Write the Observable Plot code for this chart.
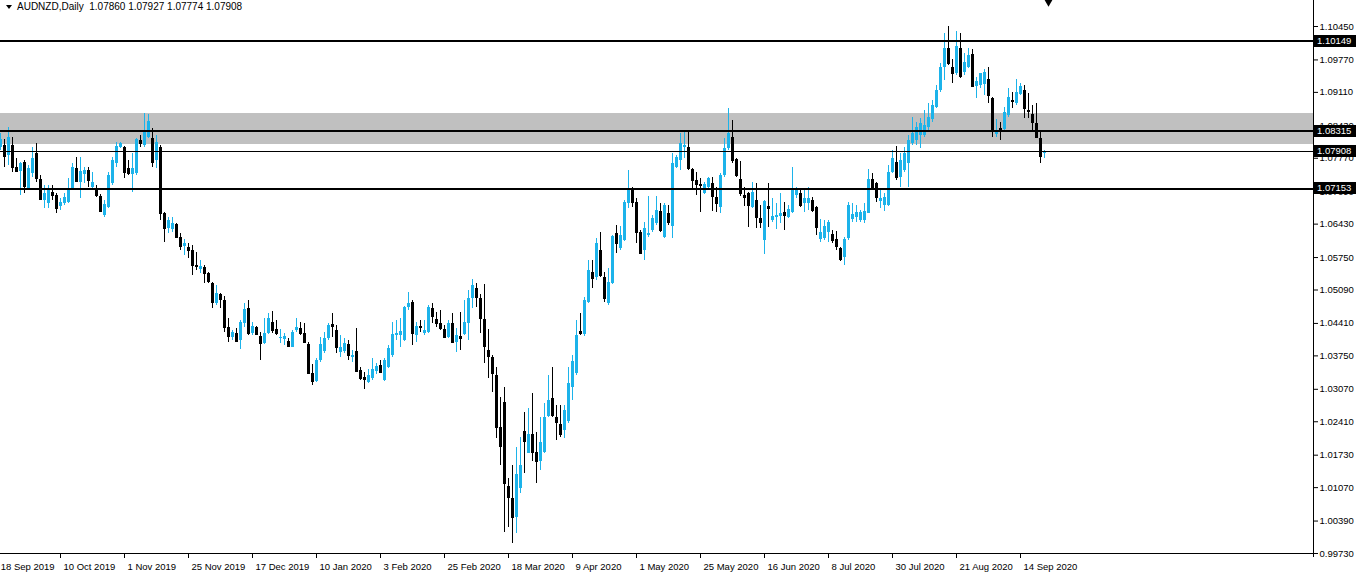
<!DOCTYPE html>
<html><head><meta charset="utf-8">
<script src="https://cdn.jsdelivr.net/npm/d3@7"></script>
<script src="https://cdn.jsdelivr.net/npm/@observablehq/plot@0.6"></script>
<style>
body{margin:0;background:#fff;}
#wrap{position:relative;width:1357px;height:577px;overflow:hidden;background:#fff;}
#title{position:absolute;left:6px;top:1px;font:10px "Liberation Sans",Arial,sans-serif;color:#000;white-space:pre;line-height:12px;}
#title .tri{display:inline-block;width:0;height:0;border-left:3.5px solid transparent;border-right:3.5px solid transparent;border-top:4px solid #000;margin-right:5px;vertical-align:1px;}
#chart{position:absolute;left:0;top:0;}
</style></head><body>
<div id="wrap"><div id="chart"></div><div id="title"></div></div>
<script>
const symbolName = "AUDNZD,Daily";
const lastQuote = [1.07860, 1.07927, 1.07774, 1.07908];

const O = [1.0799,1.0803,1.0783,1.0803,1.0758,1.0750,1.0768,1.0716,1.0746,1.0787,
1.0734,1.0691,1.0685,1.0707,1.0701,1.0679,1.0685,1.0687,1.0714,1.0756,
1.0728,1.0744,1.0752,1.0718,1.0716,1.0699,1.0661,1.0677,1.0726,1.0766,
1.0799,1.0799,1.0756,1.0744,1.0746,1.0813,1.0803,1.0820,1.0818,1.0772,
1.0799,1.0665,1.0634,1.0632,1.0642,1.0616,1.0598,1.0596,1.0589,1.0559,
1.0551,1.0555,1.0543,1.0522,1.0482,1.0500,1.0488,1.0433,1.0413,1.0421,
1.0406,1.0441,1.0472,1.0421,1.0433,1.0415,1.0400,1.0421,1.0443,1.0429,
1.0411,1.0409,1.0404,1.0392,1.0427,1.0431,1.0421,1.0398,1.0339,1.0323,
1.0366,1.0384,1.0411,1.0439,1.0427,1.0382,1.0384,1.0398,1.0372,1.0384,
1.0345,1.0331,1.0321,1.0329,1.0343,1.0355,1.0325,1.0351,1.0376,1.0417,
1.0417,1.0406,1.0474,1.0484,1.0417,1.0435,1.0421,1.0423,1.0472,1.0449,
1.0441,1.0429,1.0413,1.0441,1.0402,1.0415,1.0419,1.0441,1.0492,1.0512,
1.0492,1.0449,1.0386,1.0372,1.0335,1.0230,1.0280,1.0110,1.0085,1.0046,
1.0106,1.0221,1.0177,1.0215,1.0179,1.0160,1.0179,1.0252,1.0288,1.0250,
1.0236,1.0223,1.0242,1.0311,1.0339,1.0425,1.0419,1.0484,1.0545,1.0535,
1.0589,1.0535,1.0482,1.0522,1.0624,1.0594,1.0610,1.0685,1.0716,1.0687,
1.0626,1.0589,1.0620,1.0630,1.0644,1.0669,1.0616,1.0665,1.0638,1.0758,
1.0772,1.0799,1.0799,1.0754,1.0732,1.0724,1.0705,1.0718,1.0726,1.0697,
1.0677,1.0742,1.0797,1.0820,1.0775,1.0734,1.0701,1.0705,1.0677,1.0691,
1.0654,1.0610,1.0679,1.0650,1.0657,1.0659,1.0667,1.0657,1.0667,1.0701,
1.0705,1.0685,1.0685,1.0691,1.0677,1.0612,1.0614,1.0626,1.0622,1.0612,
1.0594,1.0575,1.0614,1.0652,1.0657,1.0650,1.0650,1.0665,1.0734,1.0726,
1.0689,1.0681,1.0681,1.0748,1.0768,1.0738,1.0752,1.0766,1.0807,1.0813,
1.0824,1.0824,1.0840,1.0856,1.0881,1.0915,1.0962,1.1000,1.0962,1.0950,
1.1000,1.0952,1.0962,1.0988,1.0923,1.0925,1.0927,1.0937,1.0899,1.0826,
1.0838,1.0836,1.0864,1.0895,1.0889,1.0907,1.0915,1.0874,1.0866,1.0848,
1.0818,1.07860];

const H = [1.0828,1.0816,1.0840,1.0820,1.0777,1.0768,1.0772,1.0762,1.0799,1.0807,
1.0742,1.0722,1.0722,1.0722,1.0705,1.0695,1.0705,1.0736,1.0766,1.0779,
1.0779,1.0758,1.0758,1.0748,1.0722,1.0703,1.0691,1.0748,1.0779,1.0809,
1.0809,1.0801,1.0772,1.0787,1.0818,1.0824,1.0868,1.0866,1.0838,1.0824,
1.0803,1.0667,1.0657,1.0657,1.0644,1.0624,1.0612,1.0604,1.0600,1.0585,
1.0569,1.0559,1.0545,1.0524,1.0518,1.0502,1.0496,1.0451,1.0427,1.0431,
1.0447,1.0482,1.0488,1.0443,1.0435,1.0423,1.0451,1.0461,1.0465,1.0447,
1.0429,1.0421,1.0411,1.0427,1.0451,1.0443,1.0441,1.0402,1.0358,1.0370,
1.0413,1.0423,1.0441,1.0461,1.0437,1.0417,1.0411,1.0406,1.0386,1.0431,
1.0351,1.0341,1.0347,1.0370,1.0360,1.0366,1.0370,1.0396,1.0443,1.0447,
1.0451,1.0476,1.0504,1.0488,1.0443,1.0447,1.0447,1.0478,1.0482,1.0463,
1.0467,1.0437,1.0447,1.0461,1.0431,1.0463,1.0488,1.0508,1.0530,1.0522,
1.0500,1.0520,1.0429,1.0376,1.0351,1.0291,1.0311,1.0126,1.0152,1.0189,
1.0209,1.0260,1.0268,1.0299,1.0219,1.0250,1.0278,1.0335,1.0351,1.0274,
1.0274,1.0274,1.0351,1.0376,1.0447,1.0461,1.0494,1.0569,1.0569,1.0614,
1.0626,1.0545,1.0553,1.0620,1.0640,1.0638,1.0691,1.0752,1.0718,1.0695,
1.0630,1.0646,1.0699,1.0661,1.0699,1.0685,1.0685,1.0681,1.0787,1.0783,
1.0828,1.0830,1.0830,1.0756,1.0748,1.0736,1.0728,1.0738,1.0738,1.0718,
1.0746,1.0818,1.0879,1.0854,1.0777,1.0770,1.0718,1.0707,1.0728,1.0726,
1.0681,1.0691,1.0726,1.0695,1.0685,1.0705,1.0687,1.0681,1.0758,1.0718,
1.0716,1.0711,1.0718,1.0697,1.0679,1.0652,1.0650,1.0650,1.0630,1.0628,
1.0596,1.0616,1.0687,1.0685,1.0681,1.0671,1.0685,1.0754,1.0746,1.0728,
1.0716,1.0705,1.0762,1.0793,1.0801,1.0787,1.0799,1.0824,1.0860,1.0850,
1.0858,1.0874,1.0889,1.0895,1.0925,1.0970,1.1031,1.1045,1.0978,1.1035,
1.1031,1.0990,1.1000,1.0998,1.0941,1.0950,1.0958,1.0962,1.0901,1.0856,
1.0850,1.0881,1.0919,1.0911,1.0937,1.0929,1.0925,1.0909,1.0885,1.0889,
1.0834,1.07927];

const L = [1.0793,1.0758,1.0762,1.0748,1.0748,1.0701,1.0705,1.0711,1.0738,1.0728,
1.0691,1.0675,1.0675,1.0691,1.0665,1.0671,1.0681,1.0685,1.0711,1.0728,
1.0695,1.0726,1.0718,1.0716,1.0697,1.0667,1.0657,1.0675,1.0722,1.0758,
1.0797,1.0736,1.0742,1.0707,1.0742,1.0799,1.0799,1.0818,1.0758,1.0756,
1.0650,1.0606,1.0624,1.0626,1.0614,1.0589,1.0579,1.0573,1.0539,1.0549,
1.0543,1.0522,1.0522,1.0472,1.0478,1.0472,1.0423,1.0402,1.0406,1.0402,
1.0388,1.0433,1.0417,1.0417,1.0417,1.0366,1.0398,1.0419,1.0421,1.0417,
1.0400,1.0396,1.0392,1.0392,1.0423,1.0417,1.0400,1.0339,1.0315,1.0321,
1.0362,1.0380,1.0406,1.0413,1.0380,1.0372,1.0380,1.0366,1.0362,1.0341,
1.0325,1.0307,1.0319,1.0325,1.0337,1.0339,1.0323,1.0349,1.0372,1.0406,
1.0392,1.0404,1.0467,1.0396,1.0402,1.0423,1.0417,1.0421,1.0441,1.0433,
1.0427,1.0411,1.0411,1.0400,1.0382,1.0386,1.0417,1.0406,1.0472,1.0474,
1.0421,1.0360,1.0329,1.0301,1.0207,1.0152,1.0016,1.0026,0.9993,1.0014,
1.0095,1.0136,1.0177,1.0160,1.0116,1.0142,1.0177,1.0250,1.0250,1.0203,
1.0209,1.0207,1.0238,1.0284,1.0335,1.0417,1.0415,1.0482,1.0512,1.0528,
1.0535,1.0484,1.0478,1.0520,1.0583,1.0589,1.0608,1.0675,1.0677,1.0604,
1.0581,1.0569,1.0616,1.0626,1.0640,1.0626,1.0614,1.0640,1.0614,1.0756,
1.0752,1.0777,1.0752,1.0711,1.0701,1.0667,1.0703,1.0711,1.0669,1.0667,
1.0665,1.0738,1.0793,1.0766,1.0738,1.0699,1.0679,1.0636,1.0675,1.0634,
1.0634,1.0581,1.0636,1.0646,1.0632,1.0644,1.0630,1.0654,1.0665,1.0695,
1.0677,1.0667,1.0671,1.0667,1.0620,1.0606,1.0610,1.0606,1.0604,1.0589,
1.0567,1.0559,1.0610,1.0646,1.0646,1.0646,1.0644,1.0665,1.0714,1.0687,
1.0675,1.0669,1.0679,1.0746,1.0732,1.0718,1.0748,1.0718,1.0803,1.0803,
1.0797,1.0820,1.0834,1.0850,1.0879,1.0911,1.0935,1.0966,1.0929,1.0946,
1.0939,1.0946,1.0960,1.0921,1.0899,1.0919,1.0905,1.0889,1.0820,1.0820,
1.0813,1.0832,1.0860,1.0879,1.0885,1.0905,1.0858,1.0858,1.0834,1.0818,
1.0766,1.07774];

const C = [1.0816,1.0781,1.0820,1.0758,1.0750,1.0766,1.0720,1.0756,1.0777,1.0736,
1.0693,1.0705,1.0716,1.0701,1.0675,1.0687,1.0697,1.0716,1.0758,1.0730,
1.0750,1.0752,1.0732,1.0728,1.0701,1.0669,1.0683,1.0742,1.0772,1.0801,
1.0807,1.0748,1.0746,1.0756,1.0816,1.0807,1.0834,1.0852,1.0768,1.0809,
1.0665,1.0634,1.0650,1.0644,1.0616,1.0598,1.0604,1.0589,1.0559,1.0557,
1.0557,1.0543,1.0526,1.0484,1.0502,1.0490,1.0433,1.0415,1.0423,1.0404,
1.0443,1.0470,1.0421,1.0435,1.0419,1.0400,1.0421,1.0451,1.0427,1.0421,
1.0413,1.0415,1.0394,1.0423,1.0433,1.0421,1.0402,1.0339,1.0323,1.0366,
1.0398,1.0411,1.0437,1.0435,1.0392,1.0392,1.0400,1.0376,1.0376,1.0343,
1.0329,1.0327,1.0335,1.0347,1.0353,1.0341,1.0366,1.0390,1.0419,1.0421,
1.0425,1.0474,1.0482,1.0421,1.0435,1.0433,1.0427,1.0474,1.0455,1.0441,
1.0431,1.0413,1.0441,1.0402,1.0417,1.0411,1.0443,1.0492,1.0518,1.0494,
1.0451,1.0394,1.0374,1.0339,1.0230,1.0191,1.0116,1.0087,1.0046,1.0134,
1.0152,1.0201,1.0215,1.0179,1.0160,1.0199,1.0250,1.0284,1.0254,1.0240,
1.0215,1.0264,1.0319,1.0364,1.0417,1.0421,1.0488,1.0549,1.0532,1.0604,
1.0539,1.0492,1.0524,1.0618,1.0604,1.0620,1.0687,1.0716,1.0687,1.0626,
1.0583,1.0634,1.0624,1.0654,1.0671,1.0630,1.0681,1.0646,1.0766,1.0779,
1.0807,1.0803,1.0756,1.0732,1.0724,1.0722,1.0724,1.0736,1.0699,1.0685,
1.0742,1.0797,1.0828,1.0772,1.0742,1.0705,1.0697,1.0681,1.0707,1.0657,
1.0646,1.0689,1.0675,1.0659,1.0661,1.0665,1.0661,1.0673,1.0716,1.0714,
1.0681,1.0695,1.0695,1.0671,1.0636,1.0626,1.0638,1.0646,1.0610,1.0598,
1.0571,1.0612,1.0681,1.0663,1.0667,1.0667,1.0669,1.0734,1.0718,1.0697,
1.0695,1.0697,1.0748,1.0777,1.0738,1.0772,1.0787,1.0813,1.0828,1.0840,
1.0848,1.0844,1.0860,1.0885,1.0915,1.0962,1.1000,1.0970,1.0950,1.1004,
1.0943,1.0972,1.0986,1.0923,1.0933,1.0950,1.0952,1.0905,1.0836,1.0834,
1.0836,1.0870,1.0901,1.0893,1.0911,1.0923,1.0879,1.0872,1.0850,1.0820,
1.0781,1.07908];

const dateLabels = ["18 Sep 2019","10 Oct 2019","1 Nov 2019","25 Nov 2019","17 Dec 2019","10 Jan 2020","3 Feb 2020","25 Feb 2020","18 Mar 2020","9 Apr 2020","1 May 2020","25 May 2020","16 Jun 2020","8 Jul 2020","30 Jul 2020","21 Aug 2020","14 Sep 2020"];
const dateLabelBars = [-1,15,31,47,63,79,95,111,127,143,159,175,191,207,223,239,255];
const priceTicks = [1.10450,1.09770,1.09110,1.08430,1.07770,1.07090,1.06430,1.05750,1.05090,1.04410,1.03750,1.03070,1.02410,1.01730,1.01070,1.00390,0.99730];
const levelLines = [1.10149, 1.08315, 1.07153];
const bidLine = 1.07908;
const zone = [1.0805, 1.0868];
const shiftBar = 262;

const BLUE = "#1cb3ea";
const FONT = '"Liberation Sans", Arial, sans-serif';

document.getElementById("title").innerHTML =
  '<span class="tri"></span>' + symbolName + '  ' + lastQuote.map(v => v.toFixed(5)).join(" ");

const bars = O.map((o, i) => ({i, o, h: H[i], l: L[i], c: C[i], up: C[i] >= o}));
const upBars = bars.filter(d => d.up);
const downBars = bars.filter(d => !d.up);
const dateTicks = dateLabelBars.map((b, k) => ({i: b, label: dateLabels[k]}));

const W = 1357, HGT = 577, MR = 44, MB = 24;
const xDom = [0, (W - MR) / 4];
const yDom = [0.99730, 1.10979];

const chart = Plot.plot({
  width: W, height: HGT,
  marginLeft: 0, marginRight: MR, marginTop: 0, marginBottom: MB,
  x: {type: "linear", domain: xDom, axis: null},
  y: {type: "linear", domain: yDom, axis: "right", ticks: priceTicks, tickFormat: d => d.toFixed(5), tickSize: 4, tickPadding: 2, label: null},
  style: {background: "white", fontFamily: FONT, fontSize: "9.5px", color: "#000"},
  marks: [
    Plot.rect([zone], {y1: d => d[0], y2: d => d[1], fill: "#c0c0c0"}),
    Plot.ruleX(upBars, {x: "i", y1: "l", y2: "h", stroke: BLUE, strokeWidth: 1, shapeRendering: "crispEdges"}),
    Plot.ruleX(downBars, {x: "i", y1: "l", y2: "h", stroke: "#000", strokeWidth: 1, shapeRendering: "crispEdges"}),
    Plot.rect(upBars, {x1: d => d.i - 0.375, x2: d => d.i + 0.375, y1: "o", y2: "c", fill: BLUE, shapeRendering: "crispEdges"}),
    Plot.rect(downBars, {x1: d => d.i - 0.375, x2: d => d.i + 0.375, y1: "o", y2: "c", fill: "#000", shapeRendering: "crispEdges"}),
    Plot.ruleY(upBars, {x1: d => d.i - 0.375, x2: d => d.i + 0.375, y: "c", stroke: BLUE, shapeRendering: "crispEdges"}),
    Plot.ruleY(downBars, {x1: d => d.i - 0.375, x2: d => d.i + 0.375, y: "c", stroke: "#000", shapeRendering: "crispEdges"}),
    Plot.ruleY(levelLines, {stroke: "#000", strokeWidth: 2, shapeRendering: "crispEdges"}),
    Plot.ruleY([bidLine], {stroke: "#000", strokeWidth: 1, shapeRendering: "crispEdges"}),
    Plot.ruleX([xDom[1]], {stroke: "#000", strokeWidth: 1, insetBottom: -4, shapeRendering: "crispEdges"}),
    Plot.ruleY([yDom[0]], {stroke: "#000", strokeWidth: 1, shapeRendering: "crispEdges"}),
    Plot.ruleX(dateTicks.filter(d => d.i >= 0), {x: "i", insetTop: HGT - MB, insetBottom: -5, stroke: "#000", shapeRendering: "crispEdges"}),
    Plot.text(dateTicks, {x: d => Math.max(d.i, -0.7), text: "label", frameAnchor: "bottom", lineAnchor: "middle", dx: 3, dy: 13, textAnchor: "start", fill: "#000", fontSize: 9.5}),
    Plot.dot([shiftBar], {x: d => d, y: () => yDom[1], symbol: "triangle", rotate: 180, r: 4, fill: "#000", stroke: null})
  ]
});
document.getElementById("chart").appendChild(chart);

// price boxes on the right axis, drawn through the plot's own scales
const svg = d3.select(chart);
const ys = chart.scale("y");
const xr = chart.scale("x").range[1];
[...levelLines, bidLine].forEach(v => {
  const y = Math.round(ys.apply(v));
  svg.append("rect").attr("x", xr + 1).attr("y", y - 6).attr("width", W - xr - 2).attr("height", 12).attr("fill", "#000");
  svg.append("text").attr("x", xr + 4).attr("y", y).attr("dy", "0.35em").attr("fill", "#fff")
    .attr("text-anchor", "start").attr("font-family", FONT).attr("font-size", "9.5px").text(v.toFixed(5));
});
</script>
</body></html>
